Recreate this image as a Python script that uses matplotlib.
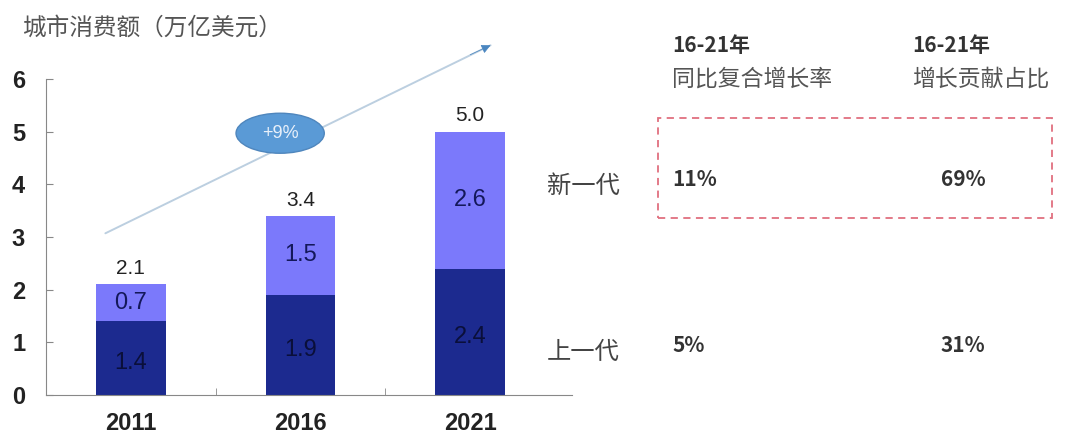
import matplotlib.pyplot as plt
from matplotlib.patches import Ellipse, Rectangle

plt.rcParams['font.family'] = ['Noto Sans CJK SC', 'DejaVu Sans']
NUM_FONT = ['Liberation Sans', 'DejaVu Sans']

years = ['2011', '2016', '2021']
old_gen = [1.4, 1.9, 2.4]
new_gen = [0.7, 1.5, 2.6]
totals = [2.1, 3.4, 5.0]

col_years = ['16-21年', '16-21年']
col_names = ['同比复合增长率', '增长贡献占比']
rows = ['新一代', '上一代']
cagr = ['11%', '5%']
share = ['69%', '31%']

DARK = '#1c2a8f'
LIGHT = '#7b79fb'

fig = plt.figure(figsize=(10.72, 4.34), dpi=100)
ax = fig.add_axes([0.0429, 0.0899, 0.4907, 0.7281])

x = list(range(len(years)))
ax.bar(x, old_gen, width=0.41, color=DARK)
ax.bar(x, new_gen, width=0.41, bottom=old_gen, color=LIGHT)

for i in x:
    ax.text(i, old_gen[i] / 2 - 0.1, f'{old_gen[i]:.1f}', ha='center', va='center',
            fontsize=17, color='#0a0f3a', family=NUM_FONT)
    ax.text(i, old_gen[i] + new_gen[i] / 2, f'{new_gen[i]:.1f}', ha='center', va='center',
            fontsize=17, color='#14185a', family=NUM_FONT)
    ax.text(i, totals[i] + 0.12, f'{totals[i]:.1f}', ha='center', va='bottom',
            fontsize=15, color='#222222', family=NUM_FONT)

ax.set_xlim(-0.5, 2.6)
ax.set_ylim(0, 6)
ax.set_xticks(x)
ax.set_xticklabels(years, fontsize=17, color='#222222', family=NUM_FONT, fontweight='bold')
ax.set_xticks([0.5, 1.5], minor=True)
ax.tick_params(axis='x', which='major', length=0, pad=12)
ax.tick_params(axis='x', which='minor', direction='in', length=5, color='#888888')
ax.set_yticks(range(7))
ax.set_yticklabels([str(v) for v in range(7)], fontsize=17, color='#222222', family=NUM_FONT,
                   fontweight='bold')
ax.tick_params(axis='y', direction='in', length=5, color='#888888', pad=15)
for s in ['top', 'right']:
    ax.spines[s].set_visible(False)
for s in ['left', 'bottom']:
    ax.spines[s].set_color('#888888')

# growth arrow and bubble
ax.annotate('', xy=(2.12, 6.64), xytext=(-0.15, 3.07), annotation_clip=False,
            arrowprops=dict(arrowstyle='-', color='#bccfe0', lw=1.4,
                            shrinkA=0, shrinkB=0))
ax.annotate('', xy=(2.12, 6.64), xytext=(2.0, 6.46), annotation_clip=False,
            arrowprops=dict(arrowstyle='-|>', color='#4a86c0', lw=0.5,
                            mutation_scale=14, shrinkA=0, shrinkB=0))
ell = Ellipse((0.88, 4.97), 0.52, 0.76, facecolor='#5a9ad6', edgecolor='#4f86bd', lw=1,
              clip_on=False, zorder=5)
ax.add_patch(ell)
ax.text(0.88, 4.97, '+9%', ha='center', va='center', fontsize=13, color='#e8f0fa', zorder=6,
        family=NUM_FONT)

fig.text(22 / 1072, 1 - 28 / 434, '城市消费额（万亿美元）', fontsize=17, color='#555555',
         ha='left', va='center')

# right-hand table
for cx, yr, name in zip([672, 912], col_years, col_names):
    fig.text(cx / 1072, 1 - 46 / 434, yr, fontsize=15, color='#333333', ha='left',
             va='center', fontweight='bold')
    fig.text(cx / 1072, 1 - 79 / 434, name, fontsize=16.5, color='#555555', ha='left',
             va='center')

row_y = [183, 349]
for r, yy in enumerate(row_y):
    fig.text(547 / 1072, 1 - (yy + 3) / 434, rows[r], fontsize=17.5, color='#444444',
             ha='left', va='center')
    fig.text(672 / 1072, 1 - (yy - 4) / 434, cagr[r], fontsize=15, color='#333333',
             ha='left', va='center', fontweight='bold')
    fig.text(941 / 1072, 1 - (yy - 4) / 434, share[r], fontsize=15, color='#333333',
             ha='left', va='center', fontweight='bold')

box = Rectangle((658 / 1072, 1 - 218 / 434), (1052 - 658) / 1072, (218 - 118) / 434,
                transform=fig.transFigure, fill=False, edgecolor='#e0707f', lw=1.3,
                linestyle=(0, (4, 3)))
fig.patches.append(box)

fig.savefig('out.png', dpi=100)
